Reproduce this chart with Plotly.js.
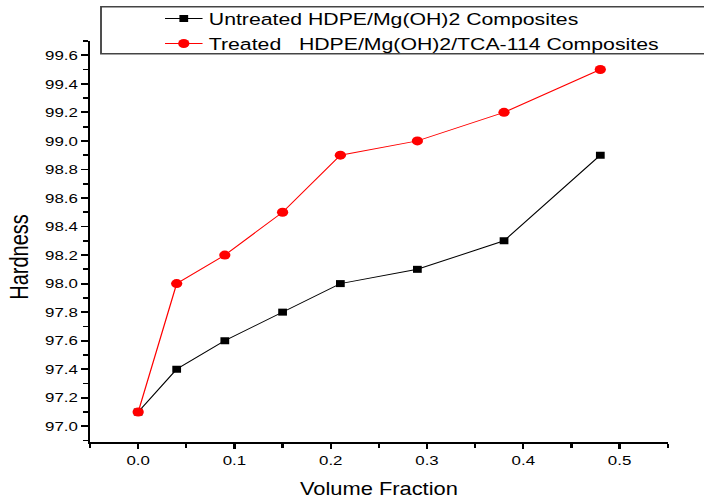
<!DOCTYPE html>
<html>
<head>
<meta charset="utf-8">
<script src="https://cdn.plot.ly/plotly-3.0.1.min.js"></script>
<style>
html,body{margin:0;padding:0;background:#fff;overflow:hidden;width:704px;height:501px;}
#chart{width:563px;height:501px;transform:scaleX(1.2504);transform-origin:0 0;}
</style>
</head>
<body>
<div id="chart"></div>
<script>
const volumeFraction = [0, 0.04, 0.09, 0.15, 0.21, 0.29, 0.38, 0.48];
const untreatedHardness = [97.1, 97.4, 97.6, 97.8, 98.0, 98.1, 98.3, 98.9];
const treatedHardness = [97.1, 98.0, 98.2, 98.5, 98.9, 99.0, 99.2, 99.5];
const seriesNames = ["Untreated HDPE/Mg(OH)2 Composites", "Treated   HDPE/Mg(OH)2/TCA-114 Composites"];
const xTitle = "Volume Fraction";
const yTitle = "Hardness";

const font = "Arial, 'Liberation Sans', sans-serif";

const traces = [
  {
    x: volumeFraction, y: untreatedHardness, name: seriesNames[0],
    type: 'scatter', mode: 'lines+markers',
    line: {color: '#000000', width: 1},
    marker: {symbol: 'square', size: 7, color: '#000000'}
  },
  {
    x: volumeFraction, y: treatedHardness, name: seriesNames[1].replace(/ /g, '\u00a0'),
    type: 'scatter', mode: 'lines+markers',
    line: {color: '#ff0000', width: 1},
    marker: {symbol: 'circle', size: 9, color: '#ff0000'}
  }
];

const axisCommon = {
  showline: true, linecolor: '#000', linewidth: 2,
  ticks: 'outside', ticklen: 5, tickwidth: 1.8, tickcolor: '#000',
  showgrid: false, zeroline: false, mirror: false,
  tickfont: {family: font, size: 13.5, color: '#000'}
};

const layout = {
  width: 563, height: 501,
  margin: {l: 72, r: 29.4, t: 41, b: 59, autoexpand: false},
  paper_bgcolor: '#fff', plot_bgcolor: '#fff',
  showlegend: true,
  legend: {
    x: 0.119, y: 1.1, xanchor: 'left', yanchor: 'top',
    bgcolor: 'rgba(0,0,0,0)', borderwidth: 0,
    font: {family: font, size: 17, color: '#000'},
    tracegroupgap: 0
  },
  xaxis: Object.assign({}, axisCommon, {
    range: [-0.05, 0.55], dtick: 0.1, tick0: 0, tickformat: '.1f',
    minor: {ticks: 'outside', dtick: 0.05, tick0: 0, ticklen: 4, tickwidth: 1.8, tickcolor: '#000'},
    title: {text: xTitle, font: {family: font, size: 17.5, color: '#000'}, standoff: 16}
  }),
  yaxis: Object.assign({}, axisCommon, {
    range: [96.89, 99.7], dtick: 0.2, tick0: 97, tickformat: '.1f',
    minor: {ticks: 'outside', dtick: 0.1, tick0: 97, ticklen: 4, tickwidth: 1.8, tickcolor: '#000'}
  }),
  annotations: [{
    text: yTitle, xref: 'paper', yref: 'paper',
    x: -0.122, y: 0.461, xanchor: 'center', yanchor: 'middle',
    textangle: -90, showarrow: false,
    font: {family: font, size: 20, color: '#000'}
  }],
  shapes: [{
    type: 'rect', xref: 'paper', yref: 'paper',
    x0: 0.019, x1: 1.07, y0: 0.968, y1: 1.0856,
    line: {color: '#444', width: 1.5}, fillcolor: 'rgba(0,0,0,0)', layer: 'above'
  }]
};

Plotly.newPlot('chart', traces, layout, {displayModeBar: false, staticPlot: true});
</script>
</body>
</html>
